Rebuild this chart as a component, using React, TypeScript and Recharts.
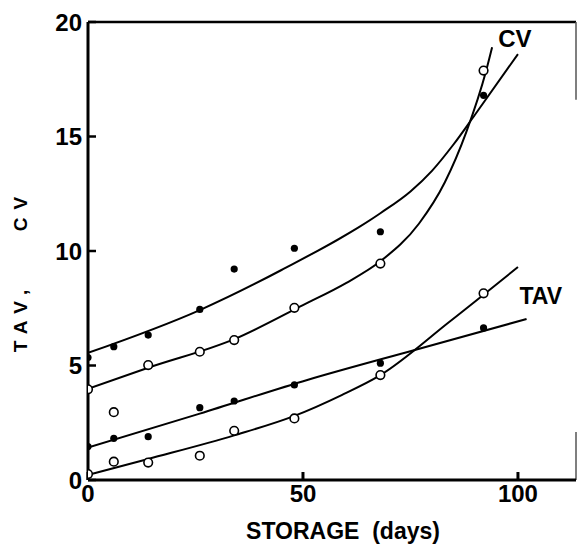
import React from "react";
import {
  ComposedChart,
  Line,
  Scatter,
  XAxis,
  YAxis,
  ReferenceLine,
  ReferenceDot,
  Label,
} from "recharts";

// storage days at which samples were taken
const days = [0, 6, 14, 26, 34, 48, 68, 92];

// measured values
const cvFilled = [5.35, 5.82, 6.33, 7.45, 9.21, 10.12, 10.84, 16.8];
const cvOpen = [3.96, 2.96, 5.02, 5.6, 6.11, 7.52, 9.45, 17.88];
const tavFilled = [1.46, 1.82, 1.89, 3.16, 3.45, 4.15, 5.1, 6.64];
const tavOpen = [0.26, 0.8, 0.76, 1.06, 2.15, 2.69, 4.58, 8.15];

// hand-drawn fitted curves
const cvFilledFitX = [0, 26, 45, 68, 75, 80, 85, 90, 100];
const cvFilledFitY = [5.55, 7.42, 9.17, 11.65, 12.6, 13.5, 14.65, 15.95, 18.6];
const cvOpenFitX = [0, 14, 34, 50, 60, 68, 77, 83, 88, 92.6, 94];
const cvOpenFitY = [3.98, 4.9, 6.15, 7.64, 8.6, 9.55, 11.2, 13.0, 15.2, 17.87, 18.9];
const tavFilledFitX = [0, 26, 51, 76, 102];
const tavFilledFitY = [1.42, 2.9, 4.37, 5.68, 7.03];
const tavOpenFitX = [0, 14, 34, 48, 59, 68, 84, 100];
const tavOpenFitY = [0.22, 0.92, 1.95, 2.8, 3.71, 4.58, 6.9, 9.3];

const xTicks = [0, 50, 100];
const yTicks = [0, 5, 10, 15, 20];

const toPoints = (xs: number[], ys: number[]) => xs.map((x, i) => ({ x, y: ys[i] }));

const FONT = "'Liberation Sans', Arial, sans-serif";

const FilledDot = (props: any) => <circle cx={props.cx} cy={props.cy} r={3.6} fill="#000" />;
const OpenDot = (props: any) => (
  <circle cx={props.cx} cy={props.cy} r={4.3} fill="#fff" stroke="#000" strokeWidth={1.6} />
);

const YTick = ({ x, y, payload }: any) => (
  <text x={x} y={y} dy="0.36em" textAnchor="end" fontFamily={FONT} fontWeight={700} fontSize={24} fill="#000">
    {payload.value}
  </text>
);

const XTick = ({ x, y, payload }: any) => (
  <text x={x} y={y} dy="0.71em" textAnchor="middle" fontFamily={FONT} fontWeight={700} fontSize={24} fill="#000">
    {payload.value}
  </text>
);

const AxisTitles = () => (
  <g fontFamily={FONT} fontWeight={700} fill="#000">
    <text x={27} y={317} transform="rotate(-90 27 317)" textAnchor="middle" fontSize={19} letterSpacing={8}>
      TAV,
    </text>
    <text x={27} y={210} transform="rotate(-90 27 210)" textAnchor="middle" fontSize={19} letterSpacing={8}>
      CV
    </text>
    <text x={343} y={539} textAnchor="middle" fontSize={23}>
      STORAGE{"\u00a0\u00a0"}(days)
    </text>
  </g>
);

export default function App() {
  return (
    <div style={{ position: "absolute", left: 0, top: 0, background: "#fff" }}>
      <ComposedChart width={577} height={544} margin={{ top: 22, right: 1, left: 0, bottom: 0 }}>
        <XAxis
          type="number"
          dataKey="x"
          domain={[0, 113.5]}
          ticks={xTicks}
          allowDataOverflow
          height={64}
          tickSize={-8}
          tickMargin={13}
          tick={<XTick />}
          axisLine={{ stroke: "#000", strokeWidth: 3 }}
          tickLine={{ stroke: "#000", strokeWidth: 3 }}
        />
        <YAxis
          type="number"
          dataKey="y"
          domain={[0, 20]}
          ticks={yTicks}
          allowDataOverflow
          width={88}
          tickSize={-8}
          tickMargin={14}
          tick={<YTick />}
          axisLine={{ stroke: "#000", strokeWidth: 3 }}
          tickLine={{ stroke: "#000", strokeWidth: 2.5 }}
          label={<Label content={() => <AxisTitles />} />}
        />
        <ReferenceLine y={20} stroke="#000" strokeWidth={2.5} ifOverflow="visible" />
        <ReferenceLine
          segment={[{ x: 113.5, y: 20 }, { x: 113.5, y: 16.6 }]}
          stroke="#555"
          strokeWidth={1.5}
          ifOverflow="visible"
        />
        <ReferenceLine
          segment={[{ x: 113.5, y: 2.1 }, { x: 113.5, y: 0 }]}
          stroke="#555"
          strokeWidth={1.5}
          ifOverflow="visible"
        />

        <Line data={toPoints(cvFilledFitX, cvFilledFitY)} dataKey="y" type="monotone" stroke="#000" strokeWidth={2} dot={false} isAnimationActive={false} />
        <Line data={toPoints(cvOpenFitX, cvOpenFitY)} dataKey="y" type="monotone" stroke="#000" strokeWidth={2} dot={false} isAnimationActive={false} />
        <Line data={toPoints(tavFilledFitX, tavFilledFitY)} dataKey="y" type="monotone" stroke="#000" strokeWidth={2} dot={false} isAnimationActive={false} />
        <Line data={toPoints(tavOpenFitX, tavOpenFitY)} dataKey="y" type="monotone" stroke="#000" strokeWidth={2} dot={false} isAnimationActive={false} />

        <Scatter data={toPoints(days, cvFilled)} dataKey="y" shape={FilledDot} isAnimationActive={false} />
        <Scatter data={toPoints(days, cvOpen)} dataKey="y" shape={OpenDot} isAnimationActive={false} />
        <Scatter data={toPoints(days, tavFilled)} dataKey="y" shape={FilledDot} isAnimationActive={false} />
        <Scatter data={toPoints(days, tavOpen)} dataKey="y" shape={OpenDot} isAnimationActive={false} />

        <ReferenceDot x={99.3} y={19.3} r={0} ifOverflow="visible"
          label={{ value: "CV", position: "center", fontSize: 24, fontWeight: 700, fontFamily: FONT, fill: "#000" }} />
        <ReferenceDot x={105.3} y={8.03} r={0} ifOverflow="visible"
          label={{ value: "TAV", position: "center", fontSize: 23, fontWeight: 700, fontFamily: FONT, fill: "#000" }} />
      </ComposedChart>
    </div>
  );
}
